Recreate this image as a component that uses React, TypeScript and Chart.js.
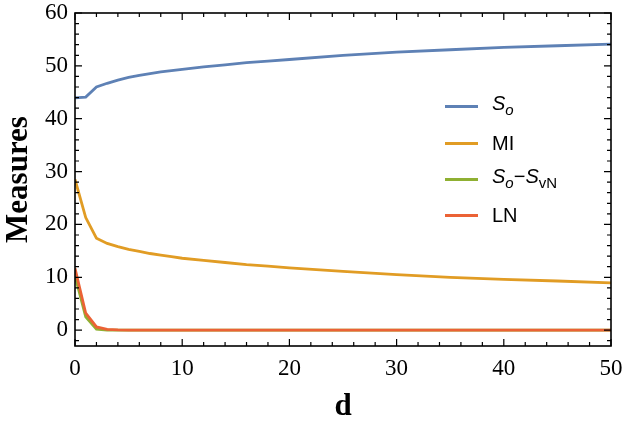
import React, { useEffect, useRef } from "react";
import { Chart, registerables } from "chart.js";

Chart.register(...registerables);

const dValues = [0, 1, 2, 3, 4, 5, 6, 7, 8, 9, 10, 12, 14, 16, 18, 20, 25, 30, 35, 40, 45, 50];
const soValues = [43.95, 44.1, 46.0, 46.7, 47.3, 47.8, 48.2, 48.55, 48.85, 49.1, 49.35, 49.8, 50.2, 50.6, 50.9, 51.2, 52.0, 52.6, 53.05, 53.5, 53.8, 54.1];
const miValues = [28.5, 21.3, 17.4, 16.4, 15.8, 15.3, 14.9, 14.5, 14.2, 13.9, 13.6, 13.2, 12.8, 12.4, 12.1, 11.8, 11.1, 10.5, 10.0, 9.6, 9.3, 8.95];
const diffValues = [10.3, 2.5, 0.2, 0.03, 0.01, 0, 0, 0, 0, 0, 0, 0, 0, 0, 0, 0, 0, 0, 0, 0, 0, 0];
const lnValues = [11.7, 3.2, 0.6, 0.15, 0.04, 0.01, 0, 0, 0, 0, 0, 0, 0, 0, 0, 0, 0, 0, 0, 0, 0, 0];
const xTicks = [0, 10, 20, 30, 40, 50];
const yTicks = [0, 10, 20, 30, 40, 50, 60];

const COLORS = {
  so: "#5E81B5",
  mi: "#E19C24",
  diff: "#8FB032",
  ln: "#EB6235",
};

const SERIF = "'Liberation Serif', 'Times New Roman', serif";

const toPts = (ys: number[]) => ys.map((y, i) => ({ x: dValues[i], y }));

const framePlugin = {
  id: "frameTicks",
  afterDatasetsDraw(chart: any) {
    const { ctx, chartArea, scales } = chart;
    const { left, right, top, bottom } = chartArea;
    const xs = scales.x;
    const ys = scales.y;
    ctx.save();
    ctx.strokeStyle = "#000";
    ctx.lineWidth = 1.6;
    ctx.strokeRect(left, top, right - left, bottom - top);
    ctx.lineWidth = 1.2;
    for (let v = 0; v <= 50; v += 2) {
      const px = xs.getPixelForValue(v);
      const len = v % 10 === 0 ? 7 : 4;
      ctx.beginPath();
      ctx.moveTo(px, bottom);
      ctx.lineTo(px, bottom - len);
      ctx.moveTo(px, top);
      ctx.lineTo(px, top + len);
      ctx.stroke();
    }
    for (let v = -2; v <= 60; v += 2) {
      const py = ys.getPixelForValue(v);
      const len = v % 10 === 0 ? 7 : 4;
      ctx.beginPath();
      ctx.moveTo(left, py);
      ctx.lineTo(left + len, py);
      ctx.moveTo(right, py);
      ctx.lineTo(right - len, py);
      ctx.stroke();
    }
    ctx.restore();
  },
};

function Legend() {
  const sub = { fontSize: "0.75em" };
  const items: { color: string; label: React.ReactNode }[] = [
    {
      color: COLORS.so,
      label: (
        <span>
          <i>S</i>
          <sub style={sub}><i>o</i></sub>
        </span>
      ),
    },
    { color: COLORS.mi, label: <span>MI</span> },
    {
      color: COLORS.diff,
      label: (
        <span>
          <i>S</i>
          <sub style={sub}><i>o</i></sub>
          −
          <i>S</i>
          <sub style={sub}>vN</sub>
        </span>
      ),
    },
    { color: COLORS.ln, label: <span>LN</span> },
  ];
  const rowY = [106, 143, 179, 215];
  return (
    <>
      {items.map((it, i) => (
        <div
          key={i}
          style={{
            position: "absolute",
            left: 445,
            top: rowY[i] - 14,
            height: 28,
            display: "flex",
            alignItems: "center",
            fontFamily: "'Liberation Sans', Arial, sans-serif",
            fontSize: 20,
            color: "#000",
            whiteSpace: "nowrap",
            lineHeight: "28px",
          }}
        >
          <div style={{ width: 33, height: 3, background: it.color, marginRight: 14 }} />
          {it.label}
        </div>
      ))}
    </>
  );
}

export default function App() {
  const canvasRef = useRef<HTMLCanvasElement>(null);

  useEffect(() => {
    if (!canvasRef.current) return;
    const mk = (label: string, ys: number[], color: string, order: number) => ({
      label,
      data: toPts(ys),
      borderColor: color,
      backgroundColor: color,
      borderWidth: 2.8,
      pointRadius: 0,
      tension: 0,
      order,
      fill: false,
    });
    const chart = new Chart(canvasRef.current, {
      type: "line",
      data: {
        datasets: [
          mk("So", soValues, COLORS.so, 4),
          mk("MI", miValues, COLORS.mi, 3),
          mk("So-SvN", diffValues, COLORS.diff, 2),
          mk("LN", lnValues, COLORS.ln, 1),
        ],
      },
      plugins: [framePlugin],
      options: {
        animation: false,
        responsive: true,
        maintainAspectRatio: false,
        layout: { padding: { left: 0, right: 14, top: 13, bottom: 0 } },
        plugins: { legend: { display: false }, tooltip: { enabled: false } },
        scales: {
          x: {
            type: "linear",
            min: 0,
            max: 50,
            afterBuildTicks: (s: any) => {
              s.ticks = xTicks.map((v) => ({ value: v }));
            },
            afterFit: (s: any) => {
              s.height = 78;
              s.paddingLeft = 0;
              s.paddingRight = 0;
            },
            grid: { display: false, drawTicks: false },
            border: { display: false },
            ticks: {
              color: "#000",
              padding: 9,
              maxRotation: 0,
              autoSkip: false,
              font: { family: SERIF, size: 23 },
            },
            title: {
              display: true,
              text: "d",
              color: "#000",
              padding: { top: 0, bottom: 2 },
              font: { family: SERIF, size: 31, weight: "bold", lineHeight: 1 },
            },
          },
          y: {
            type: "linear",
            min: -3,
            max: 60,
            afterBuildTicks: (s: any) => {
              s.ticks = yTicks.map((v) => ({ value: v }));
            },
            afterFit: (s: any) => {
              s.width = 75;
              s.paddingTop = 0;
              s.paddingBottom = 0;
            },
            grid: { display: false, drawTicks: false },
            border: { display: false },
            ticks: {
              color: "#000",
              padding: 7,
              autoSkip: false,
              font: { family: SERIF, size: 23 },
            },
            title: {
              display: true,
              text: "Measures",
              color: "#000",
              padding: { top: 3.5, bottom: 0 },
              font: { family: SERIF, size: 31, weight: "bold", lineHeight: 1 },
            },
          },
        },
      },
    } as any);
    return () => chart.destroy();
  }, []);

  return (
    <div style={{ position: "fixed", left: 0, top: 0, width: 625, height: 424, background: "#fff" }}>
      <canvas ref={canvasRef} />
      <Legend />
    </div>
  );
}
